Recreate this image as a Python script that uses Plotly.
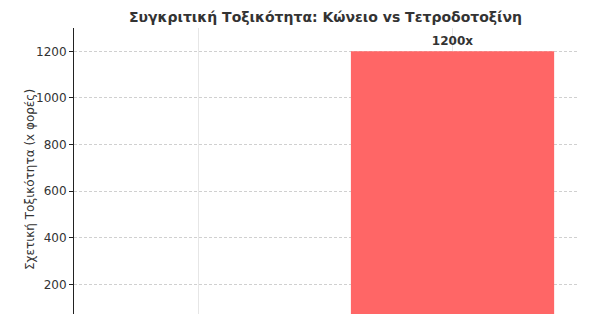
import plotly.graph_objects as go

categories = ["Κώνειο", "Τετροδοτοξίνη"]
values = [1, 1200]
labels = ["", "1200x"]
y_ticks = [200, 400, 600, 800, 1000, 1200]

FONT = "DejaVu Sans"

fig = go.Figure()
fig.add_trace(go.Bar(
    x=[0, 1], y=values, width=0.8,
    marker=dict(color="rgb(255,102,102)", line=dict(width=0)),
    text=labels, textposition="outside",
    textfont=dict(family=FONT, size=12, color="#333333", weight="bold"),
    cliponaxis=True, showlegend=False,
))

fig.update_layout(
    width=596, height=314,
    margin=dict(l=74, r=19, t=28, b=0, autoexpand=False),
    paper_bgcolor="white", plot_bgcolor="white",
    font=dict(family=FONT, size=12, color="#333333"),
    title=dict(text="<b>Συγκριτική Τοξικότητα: Κώνειο vs Τετροδοτοξίνη</b>",
               x=(74 + 577) / 2 / 596, xanchor="center", y=1 - 17 / 314, yanchor="middle",
               font=dict(family=FONT, size=14, color="#333333")),
    bargap=0.2,
)
fig.update_xaxes(
    range=[-0.49, 1.49], tickvals=[0, 1], ticktext=categories, showticklabels=False,
    showgrid=True, gridcolor="rgba(200,200,200,0.45)", gridwidth=1,
    showline=False, zeroline=False, layer="above traces", automargin=False,
)
fig.update_yaxes(
    range=[73, 1300], tickvals=y_ticks,
    showgrid=True, gridcolor="#d0d0d0", griddash="3px,2px", gridwidth=0.8,
    showline=True, linecolor="#222222", linewidth=1,
    ticks="outside", ticklen=4, tickcolor="#222222", automargin=False,
    zeroline=False, tickfont=dict(size=12, color="#333333"),
)
fig.add_annotation(
    text="Σχετική Τοξικότητα (x φορές)", textangle=-90,
    xref="paper", yref="paper", x=(30 - 74) / 503, y=(314 - 180) / 286,
    xanchor="center", yanchor="middle", showarrow=False,
    font=dict(family=FONT, size=12, color="#333333"),
)

fig.write_html("out.html")
